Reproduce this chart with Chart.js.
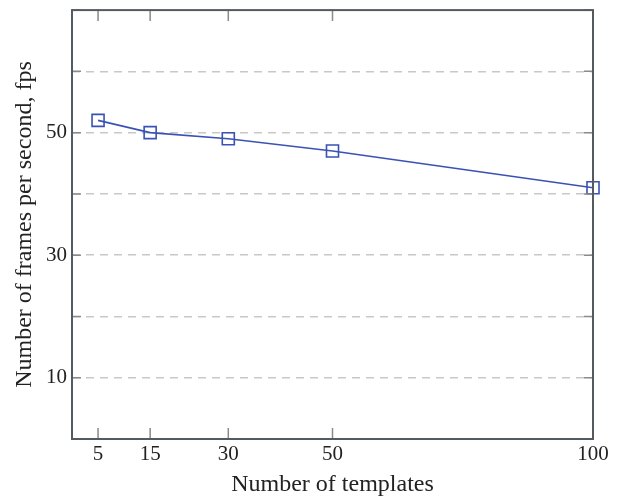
<!DOCTYPE html>
<html>
<head>
<meta charset="utf-8">
<script src="https://cdn.jsdelivr.net/npm/chart.js@4/dist/chart.umd.min.js"></script>
<style>
html,body{margin:0;padding:0;background:#fff;}
#wrap{width:619px;height:499px;}
</style>
</head>
<body>
<div id="wrap"><canvas id="c" width="619" height="499"></canvas></div>
<script>
const templates = [5, 15, 30, 50, 100];
const fps = [52, 50, 49, 47, 41];
const xTicks = [5, 15, 30, 50, 100];
const yTicks = [0, 10, 20, 30, 40, 50, 60, 70];
const yLabeled = [10, 30, 50];

const FONT = "'Liberation Serif', 'Times New Roman', serif";

const framePlugin = {
  id: 'frame',
  afterDraw(chart) {
    const ctx = chart.ctx, a = chart.chartArea;
    const xs = chart.scales.x, ys = chart.scales.y;
    ctx.save();
    ctx.strokeStyle = '#8a8a8a';
    ctx.lineWidth = 1.5;
    ctx.beginPath();
    xTicks.forEach(v => {
      const px = xs.getPixelForValue(v);
      ctx.moveTo(px, a.bottom); ctx.lineTo(px, a.bottom - 11);
      ctx.moveTo(px, a.top); ctx.lineTo(px, a.top + 11);
    });
    yTicks.forEach(v => {
      const py = ys.getPixelForValue(v);
      ctx.moveTo(a.left, py); ctx.lineTo(a.left + 9, py);
      ctx.moveTo(a.right, py); ctx.lineTo(a.right - 9, py);
    });
    ctx.stroke();
    ctx.strokeStyle = '#555a60';
    ctx.lineWidth = 2;
    ctx.strokeRect(a.left, a.top, a.right - a.left, a.bottom - a.top);
    ctx.restore();
  }
};

new Chart(document.getElementById('c'), {
  type: 'scatter',
  data: {
    datasets: [{
      data: templates.map((t, i) => ({x: t, y: fps[i]})),
      showLine: true,
      borderColor: '#3a52b4',
      borderWidth: 1.6,
      pointStyle: 'rect',
      pointRadius: 8.5,
      pointBorderWidth: 1.6,
      pointBackgroundColor: 'rgba(255,255,255,0)',
      pointBorderColor: '#3a52b4',
      clip: false
    }]
  },
  options: {
    responsive: false,
    animation: false,
    devicePixelRatio: 1,
    layout: {padding: {top: 10, right: 26, bottom: 0, left: 0}},
    plugins: {legend: {display: false}, tooltip: {enabled: false}},
    scales: {
      x: {
        type: 'linear', min: 0, max: 100,
        afterBuildTicks: s => { s.ticks = xTicks.map(v => ({value: v})); },
        afterFit: s => { s.height = 60; },
        grid: {display: false, drawTicks: false},
        border: {display: false},
        ticks: {
          padding: 3, maxRotation: 0, autoSkip: false,
          color: '#222', font: {family: FONT, size: 21}
        },
        title: {
          display: true, text: 'Number of templates',
          color: '#222', font: {family: FONT, size: 24},
          padding: {top: 0, bottom: 0}
        }
      },
      y: {
        type: 'linear', min: 0, max: 70,
        afterBuildTicks: s => { s.ticks = yTicks.map(v => ({value: v})); },
        afterFit: s => { s.width = 72; s.paddingTop = 0; s.paddingBottom = 0; },
        grid: {
          drawTicks: false,
          color: ctx => (ctx.tick && (ctx.tick.value === 0 || ctx.tick.value === 70)) ? 'rgba(0,0,0,0)' : '#c8c8c8',
          lineWidth: 1.5
        },
        border: {display: false, dash: [8, 6]},
        ticks: {
          padding: 5, autoSkip: false,
          color: '#222', font: {family: FONT, size: 21},
          callback: v => yLabeled.includes(v) ? String(v) : ''
        },
        title: {
          display: true, text: 'Number of frames per second, fps',
          color: '#222', font: {family: FONT, size: 24},
          padding: {top: 10, bottom: 0}
        }
      }
    }
  },
  plugins: [framePlugin]
});
</script>
</body>
</html>
